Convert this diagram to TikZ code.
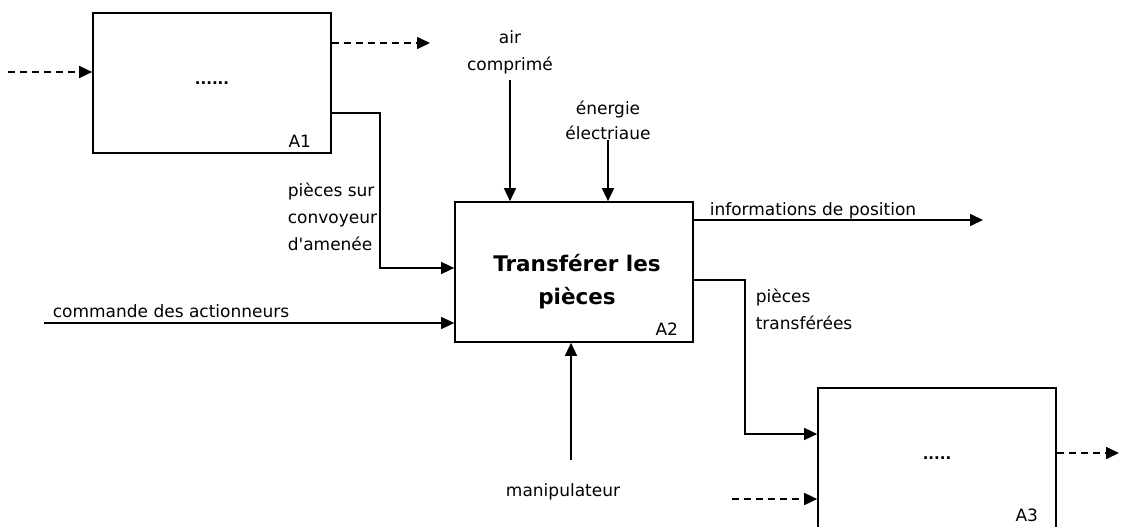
\documentclass[tikz,border=0pt]{standalone}
\usepackage{fontspec}
\setmainfont{DejaVu Sans}
\usetikzlibrary{arrows.meta}
\begin{document}
\begin{tikzpicture}[x=1pt,y=-1pt,
  line width=1.6pt,
  flow/.style={-{Triangle[length=13pt,width=12pt]}},
  dflow/.style={flow, dash pattern=on 7pt off 5pt},
  func/.style={draw, rectangle, minimum width=238pt, minimum height=140pt,
               inner sep=0pt, line width=1.7pt, font=\bfseries\fontsize{15}{17}\selectfont},
  lbl/.style={font=\fontsize{17}{27}\selectfont, inner sep=0pt},
  tag/.style={font=\fontsize{17}{19}\selectfont, inner sep=0pt, anchor=base east},
  title/.style={font=\bfseries\fontsize{21.5}{33}\selectfont, inner sep=0pt, align=center},
]
\useasboundingbox (0,0) rectangle (1121,527);

% function boxes
\node[func] (A1) at (212,83) {......};
\node[func] (A2) at (574,272) {};
\node[func] (A3) at (937,458) {.....};

\node[title] (t2) at (577,282) {Transférer les\\pièces};
\node[tag] (l1) at ([xshift=-20pt,yshift=6pt]A1.south east) {A1};
\node[tag] (l2) at ([xshift=-15pt,yshift=7pt]A2.south east) {A2};
\node[tag] (l3) at ([xshift=-18pt,yshift=7pt]A3.south east) {A3};

% free ends of the connectors
\coordinate (in1)   at (8,72);
\coordinate (out1)  at (430,43);
\coordinate (conv)  at (380,113);
\coordinate (convd) at (380,268);
\coordinate (airc)  at (510,80);
\coordinate (elec)  at (608,140);
\coordinate (info)  at (983,220);
\coordinate (cmd)   at (44,323);
\coordinate (manip) at (571,460);
\coordinate (trf)   at (745,280);
\coordinate (trfd)  at (745,434);
\coordinate (in3)   at (732,499);
\coordinate (out3)  at (1119,453);

% A1 dashed flows
\draw[dflow] (in1) -- (in1 -| A1.west);
\draw[dflow] (out1 -| A1.east) -- (out1);

% parts from the feed conveyor
\draw[flow] (conv -| A1.east) -- (conv) -- (convd) -- (convd -| A2.west);
\node[lbl, align=left, anchor=west] (conv-l) at (287,216.5) {pièces sur\\convoyeur\\d\textquotesingle amenée};

% controls
\draw[flow] (airc) -- (airc |- A2.north);
\node[lbl, align=center] (air-l) at (510,52.5) {air\\comprimé};
\draw[flow] (elec) -- (elec |- A2.north);
\node[lbl, align=center, font=\fontsize{17}{25}\selectfont] (elec-l) at (608,120.5) {énergie\\électriaue};

% outputs
\draw[flow] (info -| A2.east) -- (info);
\node[lbl, anchor=base west] (info-l) at (709,215) {informations de position};

\draw[flow] (cmd) -- (cmd -| A2.west);
\node[lbl, anchor=base west] (cmd-l) at (52,317) {commande des actionneurs};

% support
\draw[flow] (manip) -- (manip |- A2.south);
\node[lbl] (manip-l) at (563,492) {manipulateur};

% transferred parts to A3
\draw[flow] (trf -| A2.east) -- (trf) -- (trfd) -- (trfd -| A3.west);
\node[lbl, align=left, anchor=west] (trf-l) at (755,309.5) {pièces\\transférées};

% A3 dashed flows
\draw[dflow] (in3) -- (in3 -| A3.west);
\draw[dflow] (out3 -| A3.east) -- (out3);
\end{tikzpicture}
\end{document}
